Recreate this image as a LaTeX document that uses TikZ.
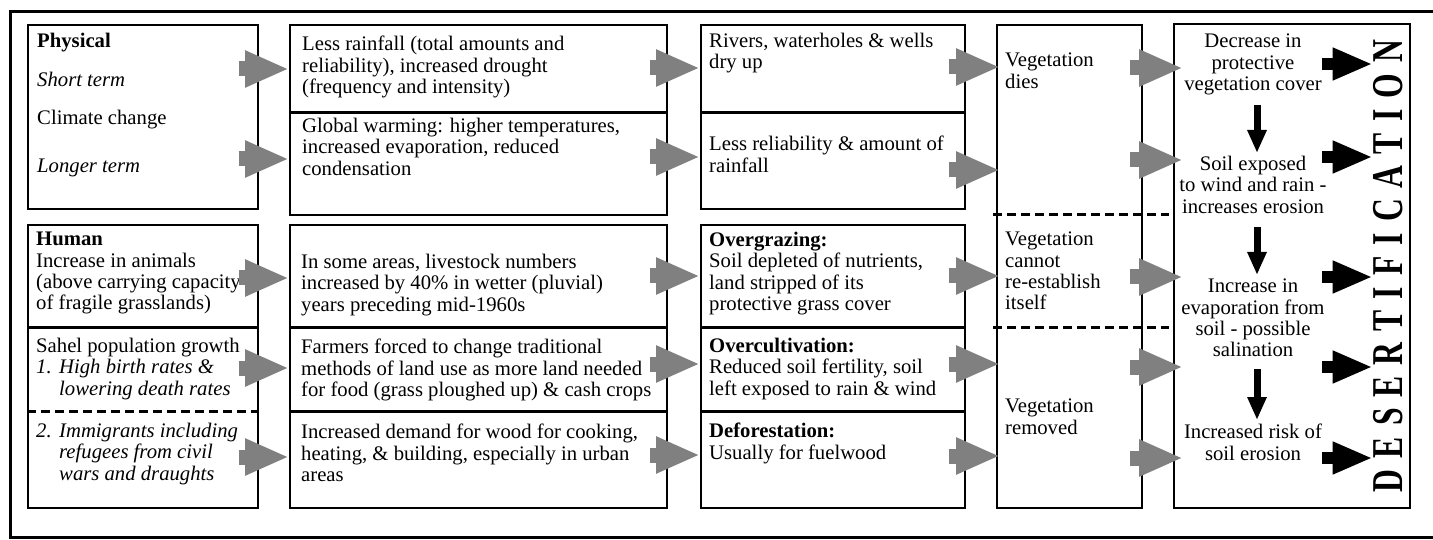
\documentclass[tikz,border=0pt]{standalone}
\usepackage{fontspec}
\setmainfont{Liberation Serif}
\usetikzlibrary{arrows.meta,calc}
\definecolor{arrowgray}{RGB}{128,128,128}
\newcommand{\dtxt}{\fontsize{20.7}{21.3}\selectfont}
\begin{document}
\begin{tikzpicture}[x=1pt,y=-1pt,
  box/.style={draw, line width=1.6pt, inner sep=0pt, anchor=north west},
  divider/.style={line width=3pt},
  dashdiv/.style={line width=3pt, dash pattern=on 9pt off 5pt},
  frame/.style={line width=3pt},
  txt/.style={anchor=north west, inner sep=0pt, align=left, font=\dtxt, execute at begin node=\strut},
  ctxt/.style={anchor=north, inner sep=0pt, align=center, font=\dtxt, execute at begin node=\strut},
  garrow/.style={draw=arrowgray, line width=15pt, -{Triangle[length=44pt,width=34pt]}},
  varrow/.style={draw=black, line width=7pt, -{Triangle[length=23pt,width=18pt]}},
  harrow/.style={draw=black, line width=12pt, -{Triangle[length=40pt,width=30pt]}}
]
\clip (0,0) rectangle (1433,540);
% outer frame
\draw[frame] (1450,12) -- (10,12) -- (10,537) -- (1450,537);
% boxes
\node[box, minimum width=230pt, minimum height=184pt] (phys) at (27,24) {};
\node[box, minimum width=230pt, minimum height=283pt] (human) at (27,224) {};
\node[box, minimum width=377pt, minimum height=190pt] (c2top) at (289,24) {};
\node[box, minimum width=377pt, minimum height=283pt] (c2bot) at (289,224) {};
\node[box, minimum width=264pt, minimum height=184pt] (c3top) at (700,24) {};
\node[box, minimum width=264pt, minimum height=283pt] (c3bot) at (700,224) {};
\node[box, minimum width=145pt, minimum height=483pt] (c4) at (996,24) {};
\node[box, minimum width=236pt, minimum height=484pt] (c5) at (1173,23) {};
% dividers
\draw[divider] (human.west |- 0,327) -- (human.east |- 0,327);
\draw[dashdiv] (human.west |- 0,411) -- (human.east |- 0,411);
\draw[divider] (c2top.west |- 0,113) -- (c2top.east |- 0,113);
\draw[divider] (c2bot.west |- 0,327) -- (c2bot.east |- 0,327);
\draw[divider] (c2bot.west |- 0,411) -- (c2bot.east |- 0,411);
\draw[divider] (c3top.west |- 0,113) -- (c3top.east |- 0,113);
\draw[divider] (c3bot.west |- 0,327) -- (c3bot.east |- 0,327);
\draw[divider] (c3bot.west |- 0,411) -- (c3bot.east |- 0,411);
\draw[dashdiv] ($(c4.west |- 0,215)+(-3,0)$) -- ($(c5.west |- 0,215)+(-4,0)$);
\draw[dashdiv] ($(c4.west |- 0,327)+(-3,0)$) -- ($(c5.west |- 0,327)+(-4,0)$);
% column 1 texts
\node[txt] (tphys) at (37,32) {\textbf{Physical}};
\node[txt] (tshort) at (37,71) {\textit{Short term}};
\node[txt] (tclim) at (37,109) {Climate change};
\node[txt] (tlong) at (37,157) {\textit{Longer term}};
\node[txt] (thum) at (36,232) {\textbf{Human}\\Increase in animals\\(above carrying capacity\\of fragile grasslands)};
\node[txt] (tsahel) at (36,338) {Sahel population growth\\\makebox[23pt][l]{\textit{1.}}\textit{High birth rates \&}\\\hspace*{23pt}\textit{lowering death rates}};
\node[txt] (timm) at (36,423) {\makebox[23pt][l]{\textit{2.}}\textit{Immigrants including}\\\hspace*{23pt}\textit{refugees from civil}\\\hspace*{23pt}\textit{wars and draughts}};
% column 2 texts
\node[txt] (tless) at (302,36) {Less rainfall (total amounts and\\reliability), increased drought\\(frequency and intensity)};
\node[txt] (tglob) at (302,118) {Global warming: higher temperatures,\\increased evaporation, reduced\\condensation};
\node[txt] (tlive) at (301,254) {In some areas, livestock numbers\\increased by 40\% in wetter (pluvial)\\years preceding mid-1960s};
\node[txt] (tfarm) at (301,339) {Farmers forced to change traditional\\methods of land use as more land needed\\for food (grass ploughed up) \& cash crops};
\node[txt] (twood) at (301,424) {Increased demand for wood for cooking,\\heating, \& building, especially in urban\\areas};
% column 3 texts
\node[txt] (triv) at (709,33) {Rivers, waterholes \& wells\\dry up};
\node[txt] (trel) at (709,136) {Less reliability \& amount of\\rainfall};
\node[txt] (tover) at (709,232) {\textbf{Overgrazing:}\\Soil depleted of nutrients,\\land stripped of its\\protective grass cover};
\node[txt] (tcult) at (709,338) {\textbf{Overcultivation:}\\Reduced soil fertility, soil\\left exposed to rain \& wind};
\node[txt] (tdef) at (709,423) {\textbf{Deforestation:}\\Usually for fuelwood};
% column 4 texts
\node[txt] (tdies) at (1005,53) {Vegetation\\dies};
\node[txt] (tcannot) at (1005,232) {Vegetation\\cannot\\re-establish\\itself};
\node[txt] (tremov) at (1005,399) {Vegetation\\removed};
% column 5 texts
\node[ctxt] (e1) at (1253,34) {Decrease in\\protective\\vegetation cover};
\node[ctxt] (e2) at (1253,156) {Soil exposed\\to wind and rain -\\increases erosion};
\node[ctxt] (e3) at (1253,279) {Increase in\\evaporation from\\soil - possible\\salination};
\node[ctxt] (e4) at (1253,424) {Increased risk of\\soil erosion};
% DESERTIFICATION
\node[rotate=90, anchor=base, inner sep=0pt] (des) at (1402,266)
  {\fontsize{44}{44}\selectfont\bfseries\scalebox{0.72}[1]{\makebox[628pt][s]{D\hfill E\hfill S\hfill E\hfill R\hfill T\hfill I\hfill F\hfill I\hfill C\hfill A\hfill T\hfill I\hfill O\hfill N}}};
% gray arrows
\newcommand{\garr}[5]{\draw[garrow] ($(#1.east |- 0,#3)+(#4,0)$) -- ($(#2.west |- 0,#3)+(#5,0)$);}
\garr{phys}{c2top}{69}{-20}{0}
\garr{phys}{c2top}{159}{-20}{0}
\garr{human}{c2bot}{278}{-20}{0}
\garr{human}{c2bot}{368}{-20}{0}
\garr{human}{c2bot}{457}{-20}{0}
\garr{c2top}{c3top}{68}{-18}{0}
\garr{c2top}{c3top}{157}{-18}{0}
\garr{c2bot}{c3bot}{276}{-18}{0}
\garr{c2bot}{c3bot}{364}{-18}{0}
\garr{c2bot}{c3bot}{455}{-18}{0}
\garr{c3top}{c4}{67}{-17}{4}
\garr{c3top}{c4}{170}{-17}{4}
\garr{c3bot}{c4}{276}{-17}{4}
\garr{c3bot}{c4}{364}{-17}{4}
\garr{c3bot}{c4}{456}{-17}{4}
\garr{c4}{c5}{68}{-13}{10}
\garr{c4}{c5}{160}{-13}{10}
\garr{c4}{c5}{277}{-13}{10}
\garr{c4}{c5}{367}{-13}{10}
\garr{c4}{c5}{458}{-13}{10}
% black vertical arrows
\coordinate (v1a) at (1257,105); \coordinate (v1b) at (1257,153);
\coordinate (v2a) at (1257,227); \coordinate (v2b) at (1257,275);
\coordinate (v3a) at (1257,369); \coordinate (v3b) at (1257,420);
\draw[varrow] (v1a) -- (v1b);
\draw[varrow] (v2a) -- (v2b);
\draw[varrow] (v3a) -- (v3b);
% black horizontal arrows to DESERTIFICATION
\foreach \yy in {64,157,277,367,458}{
  \draw[harrow] (1322,\yy) -- (des.north |- 0,\yy);
}
\end{tikzpicture}
\end{document}
